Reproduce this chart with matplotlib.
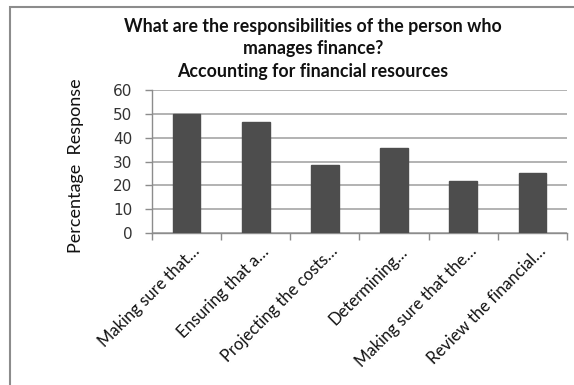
import matplotlib
matplotlib.use("Agg")
import matplotlib.pyplot as plt
from matplotlib.patches import Rectangle
from matplotlib.transforms import ScaledTranslation
import numpy as np

categories = [
    "Making sure that…",
    "Ensuring that a…",
    "Projecting the costs…",
    "Determining…",
    "Making sure that the…",
    "Review the financial…",
]
values = [50, 46.4, 28.6, 35.8, 21.7, 25.2]
y_ticks = [0, 10, 20, 30, 40, 50, 60]

title = ("What are the responsibilities of the person who\n"
         "manages finance?\n"
         "Accounting for financial resources")

W, H = 574, 385
fig = plt.figure(figsize=(W / 100, H / 100), dpi=100)
fig.patch.set_facecolor("white")

# chart-area border
fig.patches.append(Rectangle((10 / W, -0.1), 1.2, 1 - 7 / H + 0.1,
                             transform=fig.transFigure, fill=False,
                             edgecolor="#8c8c8c", linewidth=1.5))

ax = fig.add_axes([152 / W, 1 - 233 / H, (567 - 152) / W, (233 - 90) / H])
x = np.arange(len(categories))
ax.bar(x, values, width=0.4, color="#4d4d4d", edgecolor="#4d4d4d", zorder=3)

ax.set_xlim(-0.5, len(categories) - 0.5)
ax.set_ylim(0, 60)
ax.set_yticks(y_ticks)
ax.set_yticklabels([str(v) for v in y_ticks], fontfamily="DejaVu Sans",
                   fontsize=11, color="#333333")
ax.yaxis.grid(True, color="#a6a6a6", linewidth=1.2, zorder=0)
ax.set_axisbelow(True)

ax.set_xticks(x)
ax.set_xticks(np.arange(-0.5, len(categories)), minor=True)
ax.tick_params(axis="x", which="major", length=0, pad=14)
ax.tick_params(axis="x", which="minor", length=5, color="#8c8c8c", width=1)
ax.tick_params(axis="y", length=5, color="#8c8c8c", width=1, pad=9)
ax.set_xticklabels(categories, rotation=45, ha="right", va="baseline",
                   rotation_mode="anchor", fontfamily="Lato", fontsize=12,
                   color="#111111")
shift = ScaledTranslation(14 / 100, 0, fig.dpi_scale_trans)
for lbl in ax.get_xticklabels():
    lbl.set_transform(lbl.get_transform() + shift)

for side in ("top", "right"):
    ax.spines[side].set_visible(False)
for side in ("left", "bottom"):
    ax.spines[side].set_color("#8c8c8c")
    ax.spines[side].set_linewidth(1)

ax.set_ylabel("Percentage  Response", fontfamily="Lato", fontsize=13,
              color="#111111")
ax.yaxis.set_label_coords((84 - 152) / 415, 0.47)

fig.text(313 / W, 1 - 18 / H, title, ha="center", va="top",
         fontfamily="Lato", fontweight="bold", fontsize=12.8,
         linespacing=1.38, color="#111111")

fig.savefig("out.png", dpi=100, facecolor="white")
